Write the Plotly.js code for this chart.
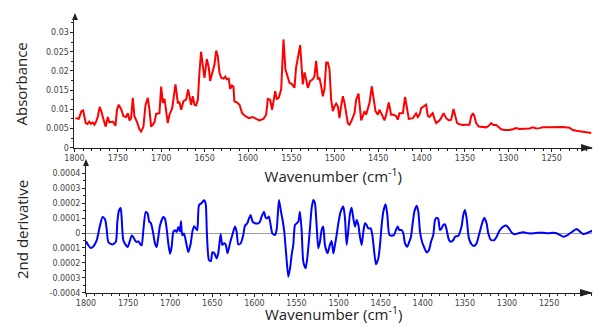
<!DOCTYPE html>
<html>
<head>
<meta charset="utf-8">
<script src="https://cdn.plot.ly/plotly-3.0.1.min.js"></script>
<style>html,body{margin:0;padding:0;background:#fff;}#chart{width:593px;height:326px;}</style>
</head>
<body>
<div id="chart"></div>
<script>
// ---- Absorbance spectrum (top) ----
const wnAbs = [1799,1795,1792,1790,1787,1785,1783,1781,1779,1777,1775,1773,1771,1769,1767,1764,1761.6,1759.7,1755.8,1752.8,1751,1749,1746,1743.6,1740.5,1738.5,1736.6,1734.7,1732.8,1730.9,1728.1,1725.1,1723.2,1720.5,1718.2,1715.5,1713.6,1711.7,1709.7,1707.8,1705.9,1702.1,1700.1,1698.2,1696.2,1694.4,1692.5,1690.5,1687.4,1683.6,1680.9,1679.0,1677.0,1674.4,1671.3,1669.0,1667.4,1665.6,1663.7,1661.7,1659.8,1657.8,1656.0,1654.1,1652.1,1650.2,1647.5,1645.2,1643.7,1641.4,1638.6,1636.7,1634.9,1632.9,1631.0,1628.3,1626.0,1624.5,1622.2,1620.6,1618.7,1616.8,1615.7,1612.9,1609.8,1606.8,1603.0,1599.1,1594.5,1590.6,1586.9,1582.2,1579.1,1577.2,1574.5,1572.2,1570.7,1568.7,1566.9,1564.6,1561.8,1559.1,1556.9,1555.3,1552.2,1549.1,1546.5,1544.6,1539.9,1536.9,1534.9,1533.0,1531.1,1528.3,1525.3,1523.4,1521.5,1519.5,1517.7,1515.7,1513.8,1511.9,1509.9,1508.0,1506.1,1504.2,1502.3,1500.3,1498.4,1496.5,1494.6,1492.7,1490.7,1488.8,1486.9,1485.0,1483.1,1481.1,1477.3,1475.4,1472.7,1471.5,1469.6,1467.7,1465.8,1463.9,1461.9,1460.0,1457.4,1455.4,1453.1,1450.4,1448.6,1446.6,1444.7,1442.7,1440.8,1437.8,1435.1,1432.3,1429.2,1427.4,1425.5,1421.6,1419.0,1417.0,1414.7,1410.0,1406.3,1404.3,1402.4,1400.4,1396.7,1394.7,1392.8,1390.8,1388.9,1387.1,1385.1,1383.2,1379.4,1377.5,1374.7,1371.6,1368.6,1365.9,1363.2,1360.9,1359.0,1356.3,1352.4,1348.7,1344.8,1342.8,1340.9,1339.1,1337.1,1334.0,1329.5,1325.6,1322.5,1319.9,1317.1,1314.0,1310.9,1308.3,1304.4,1298.7,1294.8,1291.0,1287.2,1279.5,1275.6,1271.8,1268.0,1264.1,1260.3,1252.6,1244.9,1237.2,1229.6,1225.7,1221.8,1216.1,1210.4,1204.5];
const absorbance = [0.0077,0.0075,0.0095,0.0097,0.0064,0.0062,0.0068,0.0062,0.0066,0.0060,0.0068,0.0082,0.0106,0.0095,0.0077,0.0055,0.0080,0.0066,0.0068,0.0057,0.0099,0.0112,0.0099,0.0082,0.0080,0.0090,0.0071,0.0077,0.0130,0.0082,0.0068,0.0048,0.0042,0.0055,0.0110,0.0130,0.0099,0.0055,0.0060,0.0066,0.0088,0.0090,0.0159,0.0117,0.0127,0.0099,0.0064,0.0086,0.0103,0.0165,0.0117,0.0118,0.0099,0.0121,0.0125,0.0152,0.0134,0.0112,0.0134,0.0112,0.0110,0.0125,0.0196,0.0250,0.0213,0.0182,0.0231,0.0209,0.0174,0.0191,0.0217,0.0253,0.0239,0.0196,0.0182,0.0180,0.0185,0.0178,0.0180,0.0153,0.0162,0.0159,0.0121,0.0118,0.0112,0.0090,0.0082,0.0077,0.0080,0.0075,0.0071,0.0075,0.0086,0.0127,0.0125,0.0099,0.0125,0.0147,0.0127,0.0130,0.0152,0.0282,0.0204,0.0191,0.0169,0.0165,0.0156,0.0209,0.0267,0.0165,0.0196,0.0178,0.0156,0.0174,0.0178,0.0187,0.0226,0.0178,0.0182,0.0160,0.0134,0.0152,0.0222,0.0222,0.0204,0.0125,0.0095,0.0108,0.0115,0.0108,0.0077,0.0108,0.0134,0.0117,0.0090,0.0064,0.0060,0.0068,0.0090,0.0125,0.0141,0.0117,0.0071,0.0082,0.0095,0.0086,0.0099,0.0117,0.0160,0.0125,0.0095,0.0086,0.0099,0.0090,0.0082,0.0071,0.0086,0.0118,0.0086,0.0086,0.0082,0.0073,0.0090,0.0090,0.0132,0.0108,0.0075,0.0077,0.0089,0.0080,0.0086,0.0103,0.0110,0.0112,0.0083,0.0080,0.0086,0.0090,0.0075,0.0064,0.0071,0.0077,0.0090,0.0077,0.0071,0.0073,0.0101,0.0082,0.0064,0.0061,0.0059,0.0060,0.0060,0.0082,0.0090,0.0082,0.0064,0.0055,0.0053,0.0053,0.0057,0.0064,0.0059,0.0059,0.0053,0.0048,0.0046,0.0046,0.0048,0.0051,0.0049,0.0050,0.0050,0.0053,0.0050,0.0051,0.0053,0.0053,0.0054,0.0054,0.0052,0.0046,0.0044,0.0042,0.0040,0.0038];

// ---- 2nd derivative (bottom) ----
const wnDeriv = [1800,1797.2,1794.5,1791.3,1787.3,1783.4,1780.2,1777.4,1775.5,1773.5,1769.5,1767.5,1764.4,1762.8,1760.8,1758.8,1757.6,1755.7,1752.5,1750.5,1747.7,1745.8,1743.8,1741.8,1739.8,1737.8,1735.9,1733.9,1731.9,1729.1,1726.8,1724.8,1723.2,1720.8,1718.0,1716.1,1714.1,1712.1,1708.2,1706.2,1704.2,1702.2,1700.2,1698.3,1696.3,1694.3,1692.3,1690.3,1688.4,1687.2,1685.6,1683.6,1681.2,1678.5,1675.7,1673.3,1671.3,1669.4,1667.8,1665.8,1662.6,1659.9,1657.9,1656.5,1654.0,1651.6,1650.0,1647.6,1644.8,1642.9,1640.1,1638.1,1636.1,1634.2,1631.8,1629.0,1626.2,1623.1,1621.1,1619.1,1616.3,1613.2,1611.2,1608.4,1606.4,1604.5,1602.1,1599.3,1595.4,1593.4,1591.4,1588.6,1586.6,1584.7,1582.7,1580.7,1578.7,1575.6,1573.6,1570.8,1568.4,1566.5,1564.5,1562.5,1559.7,1557.7,1555.8,1553.8,1551.8,1549.8,1547.8,1545.9,1543.9,1541.9,1539.1,1536.8,1534.0,1532.0,1530.0,1528.1,1526.1,1524.1,1522.1,1520.1,1518.2,1516.2,1513.0,1510.3,1508.3,1506.2,1504.3,1502.3,1500.3,1497.5,1494.4,1492.4,1490.4,1488.4,1486.4,1484.5,1482.5,1480.5,1478.5,1476.5,1474.6,1472.6,1470.6,1468.6,1466.7,1464.7,1461.9,1459.9,1457.9,1455.6,1452.8,1450.8,1448.8,1446.9,1444.1,1442.1,1439.7,1437.0,1434.2,1431.8,1429.8,1427.9,1425.1,1423.1,1421.1,1418.4,1416.0,1414.0,1412.0,1410.0,1407.3,1405.3,1403.3,1400.9,1398.6,1395.4,1392.6,1390.2,1387.5,1385.5,1383.5,1381.5,1379.6,1377.6,1375.6,1373.6,1371.6,1368.9,1366.9,1363.7,1361.7,1357.8,1353.9,1351.9,1349.9,1347.9,1345.2,1342.0,1338.8,1336.1,1333.3,1330.1,1327.0,1324.2,1322.2,1319.0,1315.1,1312.3,1308.4,1304.4,1300.4,1297.7,1294.5,1290.5,1286.6,1282.6,1278.7,1274.7,1268.8,1262.8,1256.9,1251.0,1245.0,1241.1,1237.1,1233.1,1229.2,1225.2,1221.3,1217.3,1213.3,1209.4,1205.4,1201.4,1198.7];
const deriv = [-0.56e-4,-0.83e-4,-1.0e-4,-0.9e-4,-0.5e-4,0.5e-4,1.07e-4,0.92e-4,0.29e-4,-0.6e-4,-0.76e-4,-0.74e-4,-0.56e-4,0.74e-4,1.52e-4,1.68e-4,0.96e-4,-0.49e-4,-0.83e-4,-0.94e-4,-0.49e-4,-0.16e-4,-0.27e-4,-0.49e-4,-0.6e-4,-0.56e-4,-0.72e-4,-0.83e-4,0.18e-4,1.41e-4,1.3e-4,0.74e-4,0.69e-4,0.18e-4,-0.72e-4,-0.94e-4,-0.27e-4,0.51e-4,1.07e-4,0.96e-4,0.29e-4,-0.72e-4,-1.39e-4,-0.94e-4,0.07e-4,0.18e-4,0.07e-4,0.4e-4,0.11e-4,0.78e-4,-0.16e-4,-0.04e-4,-0.6e-4,-1.28e-4,-0.72e-4,0.18e-4,0.45e-4,0.29e-4,0.18e-4,1.86e-4,2.01e-4,2.19e-4,1.97e-4,0.1e-4,-1.81e-4,-1.88e-4,-1.3e-4,-1.36e-4,-1.7e-4,-1.36e-4,-0.09e-4,-0.8e-4,-0.69e-4,-0.76e-4,-1.36e-4,-0.69e-4,-0.13e-4,0.43e-4,0.09e-4,-0.76e-4,-0.69e-4,-0.13e-4,0.49e-4,0.65e-4,0.98e-4,1.21e-4,0.76e-4,0.65e-4,0.65e-4,0.76e-4,1.1e-4,1.43e-4,1.03e-4,0.98e-4,1.1e-4,0.54e-4,-0.02e-4,-0.13e-4,0.2e-4,2.21e-4,1.43e-4,0.87e-4,0.09e-4,-1.25e-4,-2.93e-4,-2.37e-4,-1.48e-4,-0.8e-4,0.54e-4,0.65e-4,0.76e-4,1.43e-4,0.2e-4,-1.92e-4,-2.37e-4,-1.48e-4,0.31e-4,1.66e-4,2.21e-4,1.99e-4,0.54e-4,-1.03e-4,-0.58e-4,0.2e-4,0.43e-4,-0.8e-4,-1.36e-4,-0.8e-4,-0.54e-4,-1.36e-4,-0.8e-4,-0.13e-4,0.65e-4,1.43e-4,1.77e-4,0.98e-4,-0.8e-4,0.2e-4,1.32e-4,1.7e-4,0.98e-4,0.43e-4,0.87e-4,0.54e-4,-0.25e-4,-0.8e-4,0.09e-4,0.65e-4,0.54e-4,0.31e-4,0.31e-4,-0.13e-4,-1.14e-4,-2.1e-4,-1.7e-4,-0.8e-4,0.54e-4,1.43e-4,1.92e-4,1.21e-4,-0.13e-4,-0.18e-4,-0.13e-4,0.2e-4,0.43e-4,0.2e-4,0.2e-4,-0.02e-4,-0.69e-4,-0.92e-4,-0.58e-4,-0.25e-4,0.65e-4,1.43e-4,1.83e-4,1.43e-4,0.09e-4,-0.58e-4,-0.92e-4,-1.3e-4,-1.14e-4,-0.58e-4,-0.13e-4,0.87e-4,1.03e-4,0.92e-4,0.2e-4,0.31e-4,0.54e-4,0.58e-4,0.2e-4,-0.47e-4,-0.58e-4,-0.47e-4,-0.25e-4,-0.18e-4,0.43e-4,1.21e-4,1.54e-4,0.98e-4,-0.36e-4,-0.76e-4,-0.87e-4,-0.69e-4,-0.13e-4,0.54e-4,1.03e-4,0.65e-4,-0.02e-4,-0.47e-4,-0.47e-4,-0.25e-4,0.2e-4,0.43e-4,0.49e-4,0.31e-4,0.04e-4,-0.09e-4,-0.02e-4,0.04e-4,0.04e-4,-0.02e-4,-0.02e-4,0.02e-4,0.02e-4,-0.02e-4,0.02e-4,-0.02e-4,-0.13e-4,-0.25e-4,-0.18e-4,-0.02e-4,0.13e-4,0.27e-4,0.09e-4,-0.07e-4,-0.02e-4,0.09e-4,0.13e-4];

// ---- tick labels ----
const xTickVals = [1800,1750,1700,1650,1600,1550,1500,1450,1400,1350,1300,1250];
const xTickText = ['1800','1750','1700','1650','1600','1550','1500','1450','1400','1350','1300','1250'];
const absTickVals = [0,0.005,0.01,0.015,0.02,0.025,0.03];
const absTickText = ['0','0.005','0.01','0.015','0.02','0.025','0.03'];
const derTickVals = [0.0004,0.0003,0.0002,0.0001,0,-0.0001,-0.0002,-0.0003,-0.0004];
const derTickText = ['0.0004','0.0003','0.0002','0.0001','0','0.0001','0.0002','0.0003','-0.0004'];
const xTitle = 'Wavenumber (cm<sup>-1</sup>)';

const tickFont = {family:'DejaVu Sans', size:8, color:'#444'};
const titleFont = {family:'Open Sans', size:15, color:'#222'};
const axCol = '#222';

const traces = [
  {x: wnAbs, y: absorbance, xaxis:'x', yaxis:'y', type:'scatter', mode:'lines',
   line:{color:'#ff0000', width:2}, hoverinfo:'skip'},
  {x: wnDeriv, y: deriv, xaxis:'x2', yaxis:'y2', type:'scatter', mode:'lines',
   line:{color:'#0000ff', width:2, shape:'spline', smoothing:0.6}, hoverinfo:'skip'}
];

function xAx(domain, range, anchor, title){
  return {domain, range, anchor, autorange:false, showline:true, linecolor:axCol, linewidth:1,
    ticks:'outside', ticklen:3, tickcolor:axCol, tickmode:'array', tickvals:xTickVals, ticktext:xTickText,
    tickfont:tickFont, showgrid:false, zeroline:false,
    minor:{ticks:'outside', ticklen:2, tickcolor:axCol, tick0:1800, dtick:10, showgrid:false},
    title: title};
}

const layout = {
  width:593, height:326, margin:{l:0,r:0,t:0,b:0},
  paper_bgcolor:'#fff', plot_bgcolor:'#fff', showlegend:false,
  xaxis: xAx([0.1256,0.9983],[1800,1203.6],'y',{text:xTitle, font:titleFont, standoff:9}),
  yaxis: {domain:[0.54693,0.93865], range:[0,0.03326], anchor:'x', autorange:false,
    showline:true, linecolor:axCol, linewidth:1, ticks:'outside', ticklen:3, tickcolor:axCol,
    tickmode:'array', tickvals:absTickVals, ticktext:absTickText, tickfont:tickFont,
    showgrid:false, zeroline:false,
    minor:{ticks:'outside', ticklen:2, tickcolor:axCol, tick0:0, dtick:0.0025, showgrid:false},
    title:{text:'Absorbance', font:titleFont, standoff:14}},
  xaxis2: xAx([0.14503,0.99831],[1800,1199],'y2',{text:''}),
  yaxis2: {domain:[0.10215,0.49080], range:[-0.0004,0.000449], anchor:'x2', autorange:false,
    showline:true, linecolor:axCol, linewidth:1, ticks:'outside', ticklen:3, tickcolor:axCol,
    tickmode:'array', tickvals:derTickVals, ticktext:derTickText, tickfont:tickFont,
    showgrid:false, zeroline:true, zerolinecolor:'#999', zerolinewidth:1,
    minor:{ticks:'outside', ticklen:2, tickcolor:axCol, tick0:0, dtick:0.00005, showgrid:false},
    title:{text:'2nd derivative', font:titleFont, standoff:17}},
  annotations: [
    {text:xTitle, xref:'paper', yref:'paper', x:333/593, y:0, xanchor:'center', yanchor:'bottom',
     showarrow:false, font:titleFont}
  ],
  shapes: [
    {type:'path', xref:'paper', yref:'paper', path:'M 0.12648 0.96012 L 0.12142 0.93865 L 0.13153 0.93865 Z', fillcolor:axCol, line:{width:0}},
    {type:'path', xref:'paper', yref:'paper', path:'M 1.0 0.54693 L 0.97976 0.55828 L 0.97976 0.53558 Z', fillcolor:axCol, line:{width:0}},
    {type:'path', xref:'paper', yref:'paper', path:'M 0.14503 0.51227 L 0.13997 0.49080 L 0.15008 0.49080 Z', fillcolor:axCol, line:{width:0}},
    {type:'path', xref:'paper', yref:'paper', path:'M 1.0 0.10215 L 0.97808 0.11350 L 0.97808 0.09080 Z', fillcolor:axCol, line:{width:0}}
  ]
};

Plotly.newPlot('chart', traces, layout, {staticPlot:true, displayModeBar:false});
</script>
</body>
</html>
